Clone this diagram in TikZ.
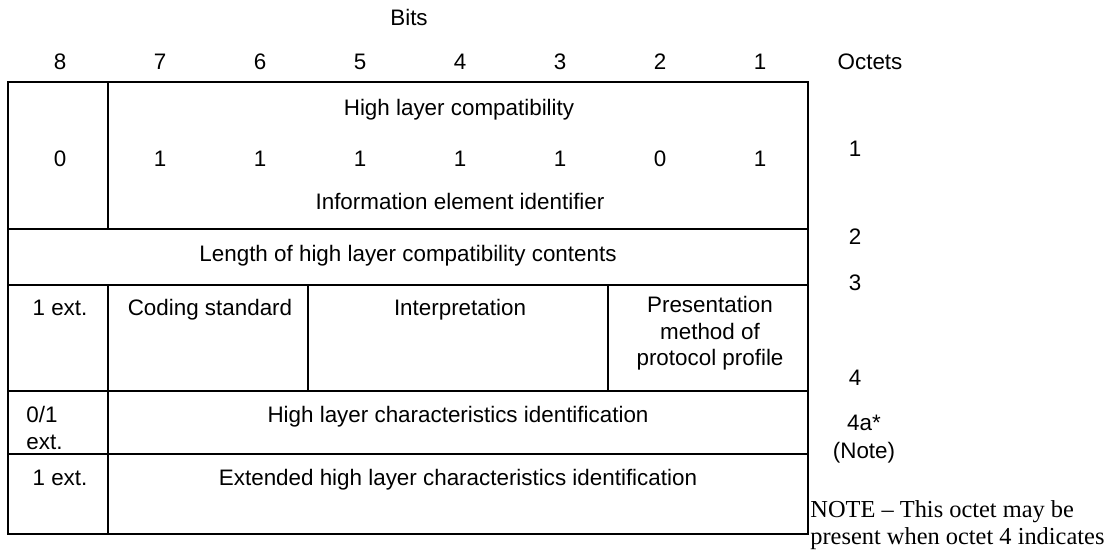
\documentclass[tikz,border=0pt]{standalone}
\usepackage{fontspec}
\setmainfont{Liberation Sans}
\newfontfamily\notefont[Ligatures=TeX]{Liberation Serif}
\begin{document}
\begin{tikzpicture}[x=0.5pt,y=-0.5pt,
  rule/.style={line width=1.3pt},
  lbl/.style={inner sep=0pt, anchor=base, font=\fontsize{11.2}{13.25}\selectfont},
  mlbl/.style={inner sep=0pt, align=center, font=\fontsize{11.2}{13.25}\selectfont},
  note/.style={inner sep=0pt, anchor=base west, font=\notefont\fontsize{12.2}{13}\selectfont}]
\useasboundingbox (0,0) rectangle (1112,551);

% table frame and row separators
\draw[rule] (8,82) rectangle (808,534);
\foreach \y in {229,285,391,454} \draw[rule] (8,\y) -- (808,\y);
% column separators
\draw[rule] (108,82) -- (108,229);
\draw[rule] (108,285) -- (108,534);
\draw[rule] (308,285) -- (308,391);
\draw[rule] (608,285) -- (608,391);

% heading
\node[lbl] (bits) at (409,26) {Bits};
\foreach \b/\x in {8/60,7/160,6/260,5/360,4/460,3/560,2/660,1/760}
  \node[lbl] (bit\b) at (\x,69) {\b};
\node[lbl] (octets) at (870,69) {Octets};

% octet 1
\node[lbl] (hlc) at (459,115) {High layer compatibility};
\foreach \b/\x/\v in {8/60/0,7/160/1,6/260/1,5/360/1,4/460/1,3/560/1,2/660/0,1/760/1}
  \node[lbl] (val\b) at (\x,166) {\v};
\node[lbl] (ieid) at (460,209) {Information element identifier};

% octet 2
\node[lbl] (len) at (408,261) {Length of high layer compatibility contents};

% octet 3
\node[lbl] (ext3) at (60,315) {1 ext.};
\node[lbl] (coding) at (210,315) {Coding standard};
\node[lbl] (interp) at (460,315) {Interpretation};
\node[mlbl, anchor=north] (pres) at (710,296) {Presentation\\method of\\protocol profile};

% octet 4
\node[mlbl, align=left, anchor=west] (ext4) at (26,428) {0/1\\ext.};
\node[lbl] (hlci) at (458,422) {High layer characteristics identification};

% octet 4a
\node[lbl] (ext4a) at (60,485) {1 ext.};
\node[lbl] (ehlci) at (458,485) {Extended high layer characteristics identification};

% octet numbers
\node[lbl] (o1) at (855,156) {1};
\node[lbl] (o2) at (855,244) {2};
\node[lbl] (o3) at (855,290) {3};
\node[lbl] (o4) at (855,385) {4};
\node[lbl] (o4a) at (864,430) {4a*};
\node[lbl] (onote) at (864,458) {(Note)};

% note text
\node[note] (note1) at (810,517) {NOTE -- This octet may be};
\node[note] (note2) at (810,544) {present when octet 4 indicates};
\end{tikzpicture}
\end{document}
